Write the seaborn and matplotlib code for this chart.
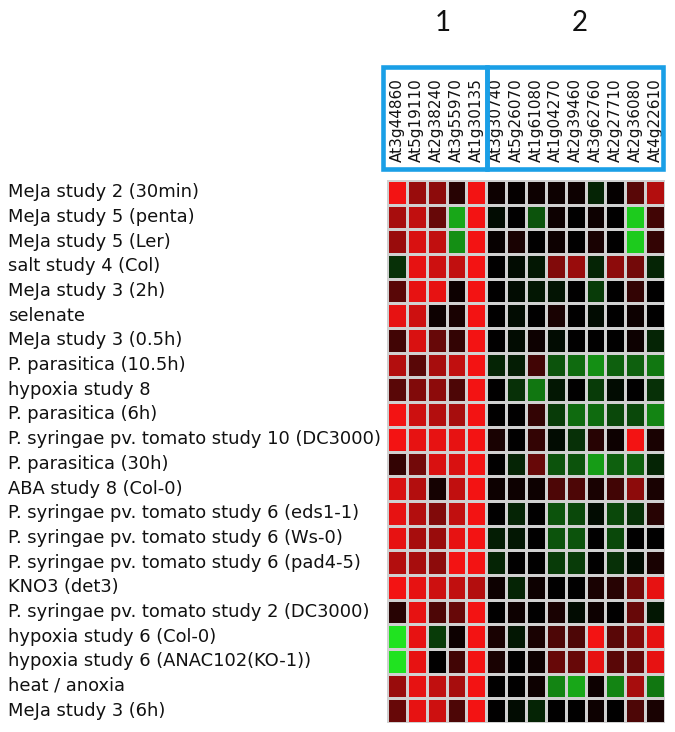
import numpy as np
import pandas as pd
import matplotlib
matplotlib.use("Agg")
import matplotlib.pyplot as plt
from matplotlib.colors import LinearSegmentedColormap
from matplotlib.patches import Rectangle
import seaborn as sns

conditions = [
    "MeJa study 2 (30min)",
    "MeJa study 5 (penta)",
    "MeJa study 5 (Ler)",
    "salt study 4 (Col)",
    "MeJa study 3 (2h)",
    "selenate",
    "MeJa study 3 (0.5h)",
    "P. parasitica (10.5h)",
    "hypoxia study 8",
    "P. parasitica (6h)",
    "P. syringae pv. tomato study 10 (DC3000)",
    "P. parasitica (30h)",
    "ABA study 8 (Col-0)",
    "P. syringae pv. tomato study 6 (eds1-1)",
    "P. syringae pv. tomato study 6 (Ws-0)",
    "P. syringae pv. tomato study 6 (pad4-5)",
    "KNO3 (det3)",
    "P. syringae pv. tomato study 2 (DC3000)",
    "hypoxia study 6 (Col-0)",
    "hypoxia study 6 (ANAC102(KO-1))",
    "heat / anoxia",
    "MeJa study 3 (6h)",
]

genes_group1 = ["At3g44860", "At5g19110", "At2g38240", "At3g55970", "At1g30135"]
genes_group2 = ["At3g30740", "At5g26070", "At1g61080", "At1g04270", "At2g39460",
                "At3g62760", "At2g27710", "At2g36080", "At4g22610"]
group_labels = ["1", "2"]

# relative expression (red = up, green = down)
values_group1 = [
    [0.95, 0.60, 0.55, 0.15, 0.95],
    [0.65, 0.75, 0.40, -0.70, 0.95],
    [0.60, 0.85, 0.75, -0.60, 0.95],
    [-0.20, 0.90, 0.80, 0.75, 0.95],
    [0.35, 0.90, 0.90, 0.05, 0.95],
    [0.90, 0.80, 0.05, 0.10, 0.95],
    [0.25, 0.85, 0.40, 0.20, 0.95],
    [0.70, 0.35, 0.65, 0.75, 0.95],
    [0.35, 0.50, 0.55, 0.30, 0.95],
    [0.95, 0.80, 0.70, 0.65, 0.95],
    [0.95, 0.90, 0.90, 0.90, 0.95],
    [0.20, 0.45, 0.85, 0.85, 0.95],
    [0.85, 0.70, 0.08, 0.75, 0.95],
    [0.90, 0.70, 0.50, 0.75, 0.95],
    [0.90, 0.65, 0.60, 0.90, 0.95],
    [0.70, 0.65, 0.55, 0.95, 0.95],
    [0.95, 0.90, 0.80, 0.75, 0.70],
    [0.15, 0.90, 0.30, 0.40, 0.95],
    [-0.95, 0.90, -0.25, 0.05, 0.95],
    [-0.95, 0.90, 0.00, 0.25, 0.95],
    [0.60, 0.90, 0.75, 0.65, 0.95],
    [0.40, 0.90, 0.80, 0.30, 0.95],
]
values_group2 = [
    [0.05, 0.02, 0.05, 0.05, 0.05, -0.15, 0.02, 0.35, 0.70],
    [-0.05, 0.00, -0.35, 0.05, 0.00, 0.05, 0.00, -0.85, 0.25],
    [0.03, 0.10, 0.00, 0.05, 0.00, 0.10, 0.00, -0.85, 0.20],
    [0.00, -0.05, -0.10, 0.50, 0.60, -0.15, 0.55, 0.45, -0.15],
    [0.00, -0.05, -0.10, -0.08, 0.00, -0.25, 0.00, 0.20, 0.00],
    [0.00, -0.05, 0.00, 0.10, 0.00, -0.05, 0.00, 0.05, 0.00],
    [0.00, -0.05, 0.05, -0.05, 0.00, 0.00, 0.00, 0.05, -0.15],
    [-0.15, -0.12, 0.25, -0.35, -0.45, -0.60, -0.40, -0.40, -0.50],
    [0.00, -0.20, -0.50, -0.10, 0.00, -0.25, -0.05, 0.00, -0.20],
    [0.00, 0.00, 0.20, -0.25, -0.45, -0.45, -0.30, -0.30, -0.55],
    [0.10, 0.00, 0.20, -0.05, -0.20, 0.15, 0.05, 0.95, 0.10],
    [0.00, -0.15, 0.40, -0.35, -0.35, -0.65, -0.40, -0.40, -0.15],
    [0.05, 0.05, 0.05, 0.30, 0.30, 0.10, 0.25, 0.55, 0.10],
    [0.00, -0.15, 0.00, -0.35, -0.30, -0.05, -0.30, -0.20, 0.15],
    [-0.12, -0.10, 0.00, -0.35, -0.35, 0.00, -0.30, 0.00, 0.00],
    [-0.15, 0.00, 0.00, -0.25, -0.25, 0.00, -0.20, -0.05, 0.10],
    [0.05, -0.15, 0.05, 0.00, 0.00, 0.10, 0.15, 0.45, 0.90],
    [0.00, 0.05, 0.00, 0.10, -0.05, 0.05, 0.00, 0.40, -0.10],
    [0.10, -0.10, 0.10, 0.30, 0.30, 0.95, 0.35, 0.50, 0.90],
    [0.10, 0.00, 0.05, 0.40, 0.40, 0.90, 0.35, 0.40, 0.90],
    [0.00, 0.00, 0.05, -0.55, -0.70, 0.05, -0.55, 0.65, -0.50],
    [0.00, -0.05, -0.15, 0.00, 0.00, 0.05, 0.00, 0.30, 0.10],
]

genes = genes_group1 + genes_group2
df = pd.DataFrame(np.hstack([np.array(values_group1), np.array(values_group2)]),
                  index=conditions, columns=genes)

cmap = LinearSegmentedColormap.from_list("gbr", ["#22ee22", "#000000", "#ff1414"])

W, H = 675, 732
fig = plt.figure(figsize=(W / 100, H / 100), dpi=100)
ax = fig.add_axes([387 / W, 1 - 723 / H, 278 / W, 543 / H])

sns.heatmap(df, ax=ax, cmap=cmap, vmin=-1, vmax=1, cbar=False,
            linewidths=1.0, linecolor="#d0d0d0")

ax.xaxis.tick_top()
ax.set_xticks(np.arange(len(genes)) + 0.5)
ax.set_xticklabels(genes, rotation=90, fontsize=11, family="DejaVu Sans",
                   color="#111111")
ax.tick_params(axis="x", length=0, pad=13)

ax.set_yticks(np.arange(len(conditions)) + 0.5)
ax.set_yticklabels(conditions, rotation=0, fontsize=12.9, family="DejaVu Sans",
                   color="#111111")
ax.tick_params(axis="y", length=0, pad=(387 - 8) * 0.72)
for lab in ax.get_yticklabels():
    lab.set_horizontalalignment("left")
ax.set_xlabel("")
ax.set_ylabel("")

box_color = "#1a9fe6"
for x0, x1 in [(382.5, 487), (487, 663)]:
    fig.patches.append(Rectangle((x0 / W, 1 - 168.5 / H), (x1 - x0) / W, (168.5 - 67) / H,
                                 transform=fig.transFigure, fill=False,
                                 ec=box_color, lw=3.3))

fig.text(443 / W, 1 - 23 / H, group_labels[0], fontsize=20, family="Lato",
         ha="center", va="center", color="#111111")
fig.text(580 / W, 1 - 23 / H, group_labels[1], fontsize=20, family="Lato",
         ha="center", va="center", color="#111111")

fig.savefig("out.png", dpi=100, facecolor="white")
